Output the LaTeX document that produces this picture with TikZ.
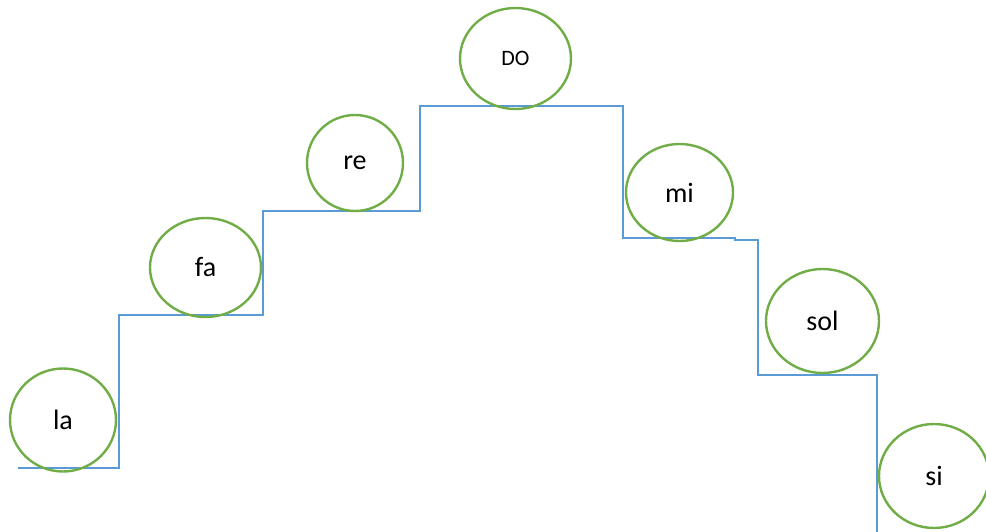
\documentclass[tikz,border=0pt]{standalone}
\usepackage{fontspec}
\setmainfont{Carlito}
\usetikzlibrary{shapes.geometric}
\definecolor{notegreen}{RGB}{112,173,71}
\definecolor{stairblue}{RGB}{91,155,213}
\tikzset{
  note/.style={ellipse,draw=notegreen,line width=2.4pt,inner sep=0pt,
    font=\fontsize{28}{32}\selectfont},
  stair/.style={draw=stairblue,line width=1.2pt}
}
\begin{document}
\begin{tikzpicture}[x=1pt,y=-1pt]
  \useasboundingbox (0,0) rectangle (986,532);
  % the staircase
  \draw[stair] (18,468) -- (119,468) -- (119,315) -- (263,315) -- (263,211)
    -- (420,211) -- (420,106) -- (623,106) -- (623,238) -- (735,238)
    -- (735,240) -- (758,240) -- (758,375) -- (877,375) -- (877,540);
  % the notes
  \node[note,minimum width=106,minimum height=103](la) at (63,420) {la};
  \node[note,minimum width=111,minimum height=99](fa) at (205.5,267.5) {fa};
  \node[note,minimum width=96,minimum height=96](re) at (355,163) {re};
  \node[note,minimum width=111,minimum height=101,
    font=\fontsize{22}{26}\selectfont](do) at (515.5,58.5) {DO};
  \node[note,minimum width=107,minimum height=97](mi) at (679.5,192.5) {mi};
  \node[note,minimum width=113,minimum height=104](sol) at (822.5,321) {sol};
  \node[note,minimum width=110,minimum height=104](si) at (934,476) {si};
\end{tikzpicture}
\end{document}
